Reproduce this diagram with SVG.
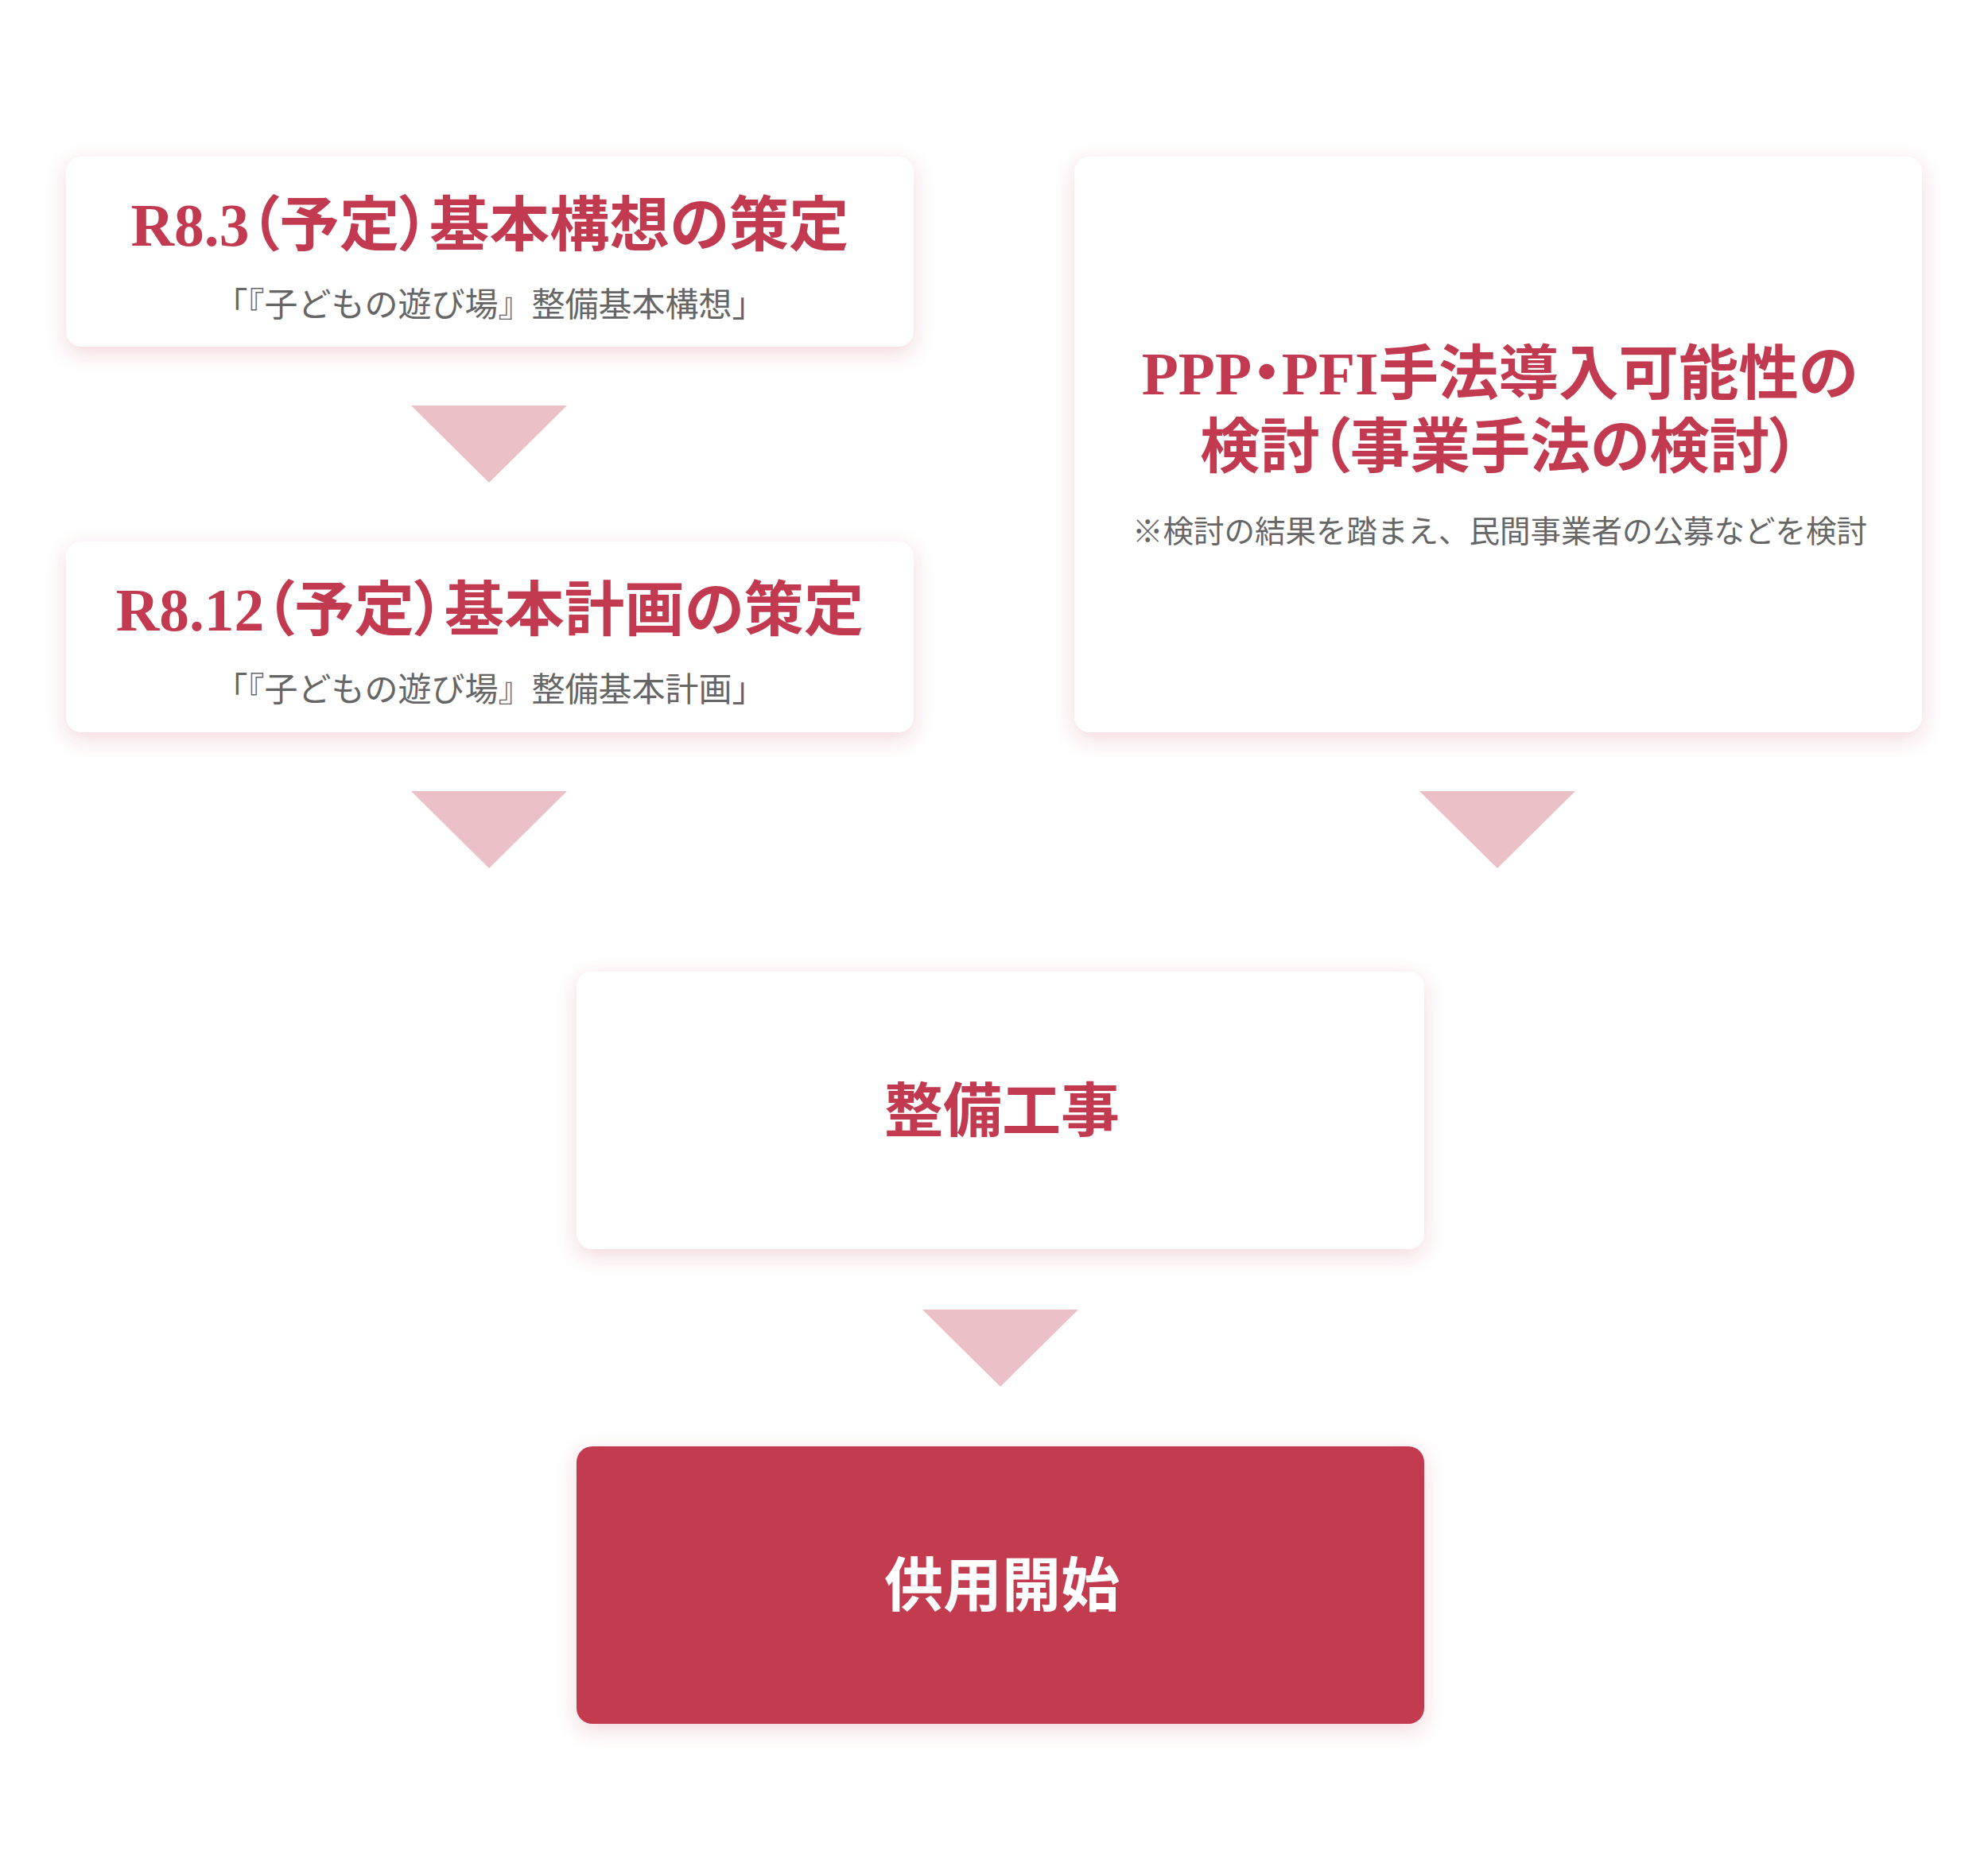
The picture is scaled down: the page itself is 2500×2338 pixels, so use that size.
<svg xmlns="http://www.w3.org/2000/svg" width="2500" height="2338" viewBox="0 0 2500 2338">
  <defs>
    <filter id="glow" x="-10%" y="-20%" width="120%" height="150%">
      <feDropShadow dx="0" dy="8" stdDeviation="13" flood-color="#C23A50" flood-opacity="0.2"/>
    </filter>
    <style>
      .card { fill: #ffffff; filter: url(#glow); }
      .card-dark { fill: #C23A50; filter: url(#glow); }
      .title { font-family: "Liberation Serif", "Noto Sans CJK JP", serif; font-weight: 700; font-size: 75.5px; fill: #C23A50; text-anchor: middle; font-feature-settings: "palt" 1; }
      .big { font-family: "Liberation Serif", "Noto Sans CJK JP", serif; font-weight: 700; font-size: 74px; text-anchor: middle; }
      .sub { font-family: "Liberation Serif", "Noto Sans CJK JP", serif; font-weight: 400; font-size: 42px; fill: #666666; text-anchor: middle; }
      .note { font-family: "Liberation Serif", "Noto Sans CJK JP", serif; font-weight: 400; font-size: 38.5px; fill: #666666; text-anchor: middle; }
      .arrow { fill: #EBC0C6; }
    </style>
  </defs>
  <rect x="0" y="0" width="2500" height="2338" fill="#ffffff"/>

  <g id="connectors">
    <polygon class="arrow" points="517,510 713,510 615,607"/>
    <polygon class="arrow" points="517,995 713,995 615,1092"/>
    <polygon class="arrow" points="1785,995 1981,995 1883,1092"/>
    <polygon class="arrow" points="1160,1647 1356,1647 1258,1744"/>
  </g>

  <g id="node-kihon-koso">
    <rect class="card" x="83" y="197" width="1066" height="239" rx="20"/>
    <text class="title" x="616" y="309">R8.3（予定）基本構想の策定</text>
    <text class="sub" x="616" y="398">「『子どもの遊び場』整備基本構想」</text>
  </g>

  <g id="node-kihon-keikaku">
    <rect class="card" x="83" y="681" width="1066" height="240" rx="20"/>
    <text class="title" x="616" y="793">R8.12（予定）基本計画の策定</text>
    <text class="sub" x="616" y="882">「『子どもの遊び場』整備基本計画」</text>
  </g>

  <g id="node-ppp-pfi">
    <rect class="card" x="1351" y="197" width="1066" height="724" rx="20"/>
    <text class="title" x="1886" y="496">PPP・PFI手法導入可能性の</text>
    <text class="title" x="1886" y="588">検討（事業手法の検討）</text>
    <text class="note" x="1886" y="682">※検討の結果を踏まえ、民間事業者の公募などを検討</text>
  </g>

  <g id="node-seibi-koji">
    <rect class="card" x="725" y="1222" width="1066" height="349" rx="20"/>
    <text class="big" x="1260" y="1423" fill="#C23A50">整備工事</text>
  </g>

  <g id="node-kyoyo-kaishi">
    <rect class="card-dark" x="725" y="1819" width="1066" height="349" rx="20"/>
    <text class="big" x="1260" y="2020" fill="#ffffff">供用開始</text>
  </g>
</svg>
